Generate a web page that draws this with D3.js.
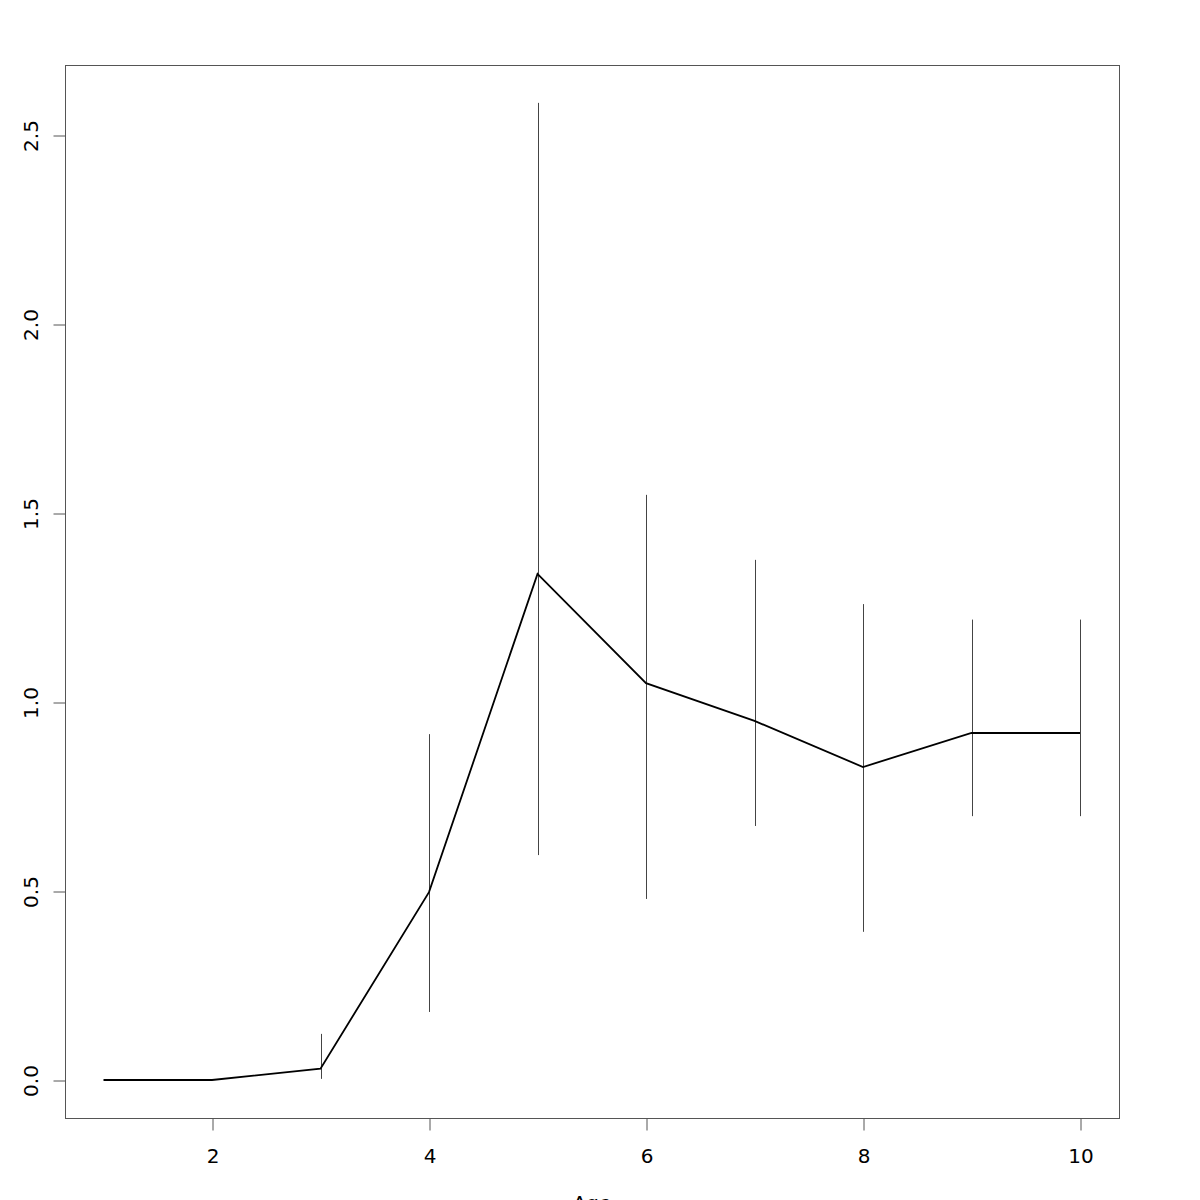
<!DOCTYPE html>
<html>
<head>
<meta charset="utf-8">
<script src="https://cdn.jsdelivr.net/npm/d3@7"></script>
<style>
html,body{margin:0;padding:0;background:#fff;}
svg{display:block;}
text{font-family:"DejaVu Sans",sans-serif;}
</style>
</head>
<body>
<script>
// Data
const ages = [1, 2, 3, 4, 5, 6, 7, 8, 9, 10];
const means = [0, 0, 0.03, 0.497, 1.339, 1.05, 0.95, 0.828, 0.918, 0.918];
const lower = [null, null, 0.003, 0.18, 0.595, 0.479, 0.672, 0.392, 0.698, 0.698];
const upper = [null, null, 0.122, 0.915, 2.585, 1.548, 1.376, 1.259, 1.218, 1.218];
const xTicks = [2, 4, 6, 8, 10];
const yTicks = [0, 0.5, 1.0, 1.5, 2.0, 2.5];
const xLabel = "Age";

(function () {
const W = 1200, H = 1200;
const svg = d3.select("body").append("svg").attr("width", W).attr("height", H);

const x = d3.scaleLinear().domain([1, 10]).range([103.5, 1080]);
const y = d3.scaleLinear().domain([0, 2.5]).range([1080, 135]);

const pL = 65, pR = 1119, pT = 65, pB = 1118;

// Frame
svg.append("rect")
  .attr("x", pL + 0.5).attr("y", pT + 0.5)
  .attr("width", pR - pL).attr("height", pB - pT)
  .attr("fill", "none").attr("stroke", "#555").attr("stroke-width", 1);

// X axis
const xAxis = d3.axisBottom(x).tickValues(xTicks).tickSize(12).tickPadding(18).tickFormat(d3.format("d"));
const gx = svg.append("g").attr("transform", `translate(0.5,${pB + 0.5})`).call(xAxis);
gx.select(".domain").attr("d", `M${x(2)},0H${x(10)}`).attr("stroke", "#555");
gx.selectAll(".tick line").attr("stroke", "#555");
gx.selectAll(".tick text").attr("font-size", 20).attr("fill", "#000").attr("font-family", "DejaVu Sans");

// Y axis
const yAxis = d3.axisLeft(y).tickValues(yTicks).tickSize(12).tickFormat(d3.format(".1f"));
const gy = svg.append("g").attr("transform", `translate(${pL + 0.5},0.5)`).call(yAxis);
gy.select(".domain").attr("d", `M0,${y(0)}V${y(2.5)}`).attr("stroke", "#555");
gy.selectAll(".tick line").attr("stroke", "#555");
gy.selectAll(".tick text")
  .attr("font-size", 20).attr("fill", "#000").attr("font-family", "DejaVu Sans")
  .attr("x", 0).attr("y", 0).attr("dy", "0.36em")
  .attr("text-anchor", "middle")
  .attr("transform", "translate(-35,0) rotate(-90)");

// X label
svg.append("text").attr("x", (pL + pR) / 2).attr("y", 1210)
  .attr("text-anchor", "middle").attr("font-size", 20).text(xLabel);

// Error bars
const bars = ages.map((a, i) => ({a, lo: lower[i], hi: upper[i]})).filter(d => d.lo !== null);
svg.append("g").selectAll("line").data(bars).join("line")
  .attr("x1", d => Math.round(x(d.a)) + 0.5).attr("x2", d => Math.round(x(d.a)) + 0.5)
  .attr("y1", d => y(d.hi)).attr("y2", d => y(d.lo))
  .attr("stroke", "#444").attr("stroke-width", 1);

// Mean line
const line = d3.line().x((d, i) => x(ages[i])).y(d => y(d));
svg.append("path").datum(means).attr("d", line)
  .attr("fill", "none").attr("stroke", "#000").attr("stroke-width", 1.8);
})();
</script>
</body>
</html>
